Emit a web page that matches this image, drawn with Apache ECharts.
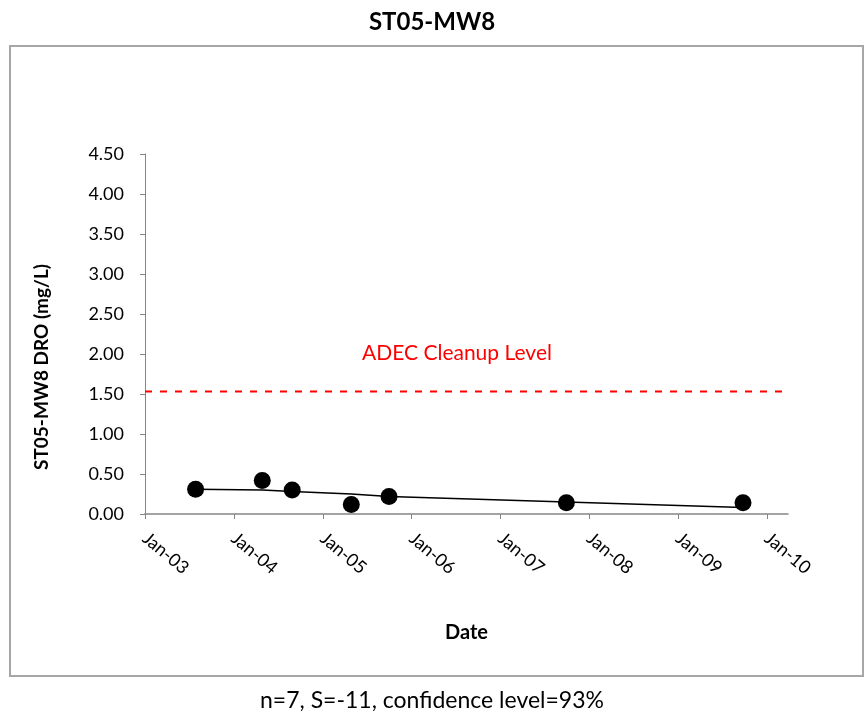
<!DOCTYPE html>
<html>
<head>
<meta charset="utf-8">
<title>ST05-MW8</title>
<script src="https://cdn.jsdelivr.net/npm/echarts@6/dist/echarts.min.js"></script>
<style>
  html, body { margin: 0; padding: 0; background: #fff; }
  #main { width: 864px; height: 719px; }
</style>
</head>
<body>
<div id="main"></div>
<script>
// sample dates and DRO results (mg/L)
var sampleDates = ['2003-07-28', '2004-04-27', '2004-08-28', '2005-04-28', '2005-09-30', '2007-09-29', '2009-09-24'];
var droValues = [0.31, 0.42, 0.30, 0.12, 0.22, 0.14, 0.14];
// trend line value at each sample date
var trendValues = [0.31, 0.30, 0.28, 0.25, 0.22, 0.15, 0.08];
// cleanup level
var cleanupLevel = 1.53;
// axis ticks
var tickYears = [2003, 2004, 2005, 2006, 2007, 2008, 2009, 2010];

var fontFam = 'Lato, "Open Sans", sans-serif';
var axisGray = '#868686';

var xMin = Date.UTC(2003, 0, 1);
var xMax = Date.UTC(2010, 2, 28);
var xTicks = tickYears.map(function (y) { return Date.UTC(y, 0, 1); });

var ms = sampleDates.map(function (d) { return Date.parse(d); });
var pts = ms.map(function (t, i) { return [t, droValues[i]]; });
var trend = ms.map(function (t, i) { return [t, trendValues[i]]; });

var myChart = echarts.init(document.getElementById('main'));
myChart.setOption({
    animation: false,
    textStyle: { fontFamily: fontFam },
    title: {
        text: 'ST05-MW8',
        left: 'center',
        top: 5,
        textStyle: { fontFamily: fontFam, fontSize: 24, fontWeight: 'bold', color: '#000' }
    },
    grid: {
        left: 145,
        right: 76,
        top: 154,
        bottom: 205,
        containLabel: false
    },
    xAxis: {
        type: 'value',
        min: xMin,
        max: xMax,
        name: 'Date',
        nameLocation: 'middle',
        nameGap: 109,
        nameTextStyle: { fontFamily: fontFam, fontSize: 20, fontWeight: 'bold', color: '#000' },
        axisLine: { lineStyle: { color: axisGray, width: 1.5 } },
        axisTick: { show: true, customValues: xTicks, length: 5, lineStyle: { color: axisGray } },
        axisLabel: {
            customValues: xTicks,
            rotate: -40,
            margin: 22,
            fontSize: 18,
            color: '#000',
            fontFamily: fontFam,
            formatter: function (v) {
                var y = new Date(v).getUTCFullYear();
                return 'Jan-' + String(y).slice(2);
            }
        },
        splitLine: { show: false }
    },
    yAxis: {
        type: 'value',
        min: 0,
        max: 4.5,
        interval: 0.5,
        name: 'ST05-MW8 DRO (mg/L)',
        nameLocation: 'middle',
        nameGap: 94,
        nameRotate: 90,
        nameTextStyle: { fontFamily: fontFam, fontSize: 19, fontWeight: 'bold', color: '#000', padding: [0, 66, 0, 0] },
        axisLine: { show: true, lineStyle: { color: axisGray, width: 1 } },
        axisTick: { show: true, length: 5, lineStyle: { color: axisGray } },
        axisLabel: {
            fontSize: 18,
            color: '#000',
            margin: 21,
            fontFamily: fontFam,
            formatter: function (v) { return v.toFixed(2); }
        },
        splitLine: { show: false }
    },
    graphic: [
        {
            type: 'rect',
            shape: { x: 10, y: 46, width: 853, height: 630 },
            style: { fill: 'none', stroke: '#a6a6a6', lineWidth: 2 },
            silent: true,
            z: -1
        },
        {
            type: 'text',
            left: 'center',
            top: 689,
            style: { text: 'n=7, S=-11, confidence level=93%', fontSize: 23, fontFamily: fontFam, fill: '#000' }
        },
        {
            type: 'text',
            x: 362,
            y: 343,
            style: { text: 'ADEC Cleanup Level', fontSize: 21, fontFamily: fontFam, fill: '#ff0000' }
        }
    ],
    series: [
        {
            name: 'ADEC Cleanup Level',
            type: 'line',
            data: [[xMin, cleanupLevel], [xMax, cleanupLevel]],
            symbol: 'none',
            lineStyle: { color: '#ff0000', width: 2, type: [7, 8] },
            z: 2
        },
        {
            name: 'Trend',
            type: 'line',
            data: trend,
            symbol: 'none',
            lineStyle: { color: '#000', width: 1.5 },
            z: 3
        },
        {
            name: 'DRO',
            type: 'scatter',
            data: pts,
            symbol: 'circle',
            symbolSize: 17,
            itemStyle: { color: '#000', opacity: 1 },
            z: 4
        }
    ]
});
</script>
</body>
</html>
